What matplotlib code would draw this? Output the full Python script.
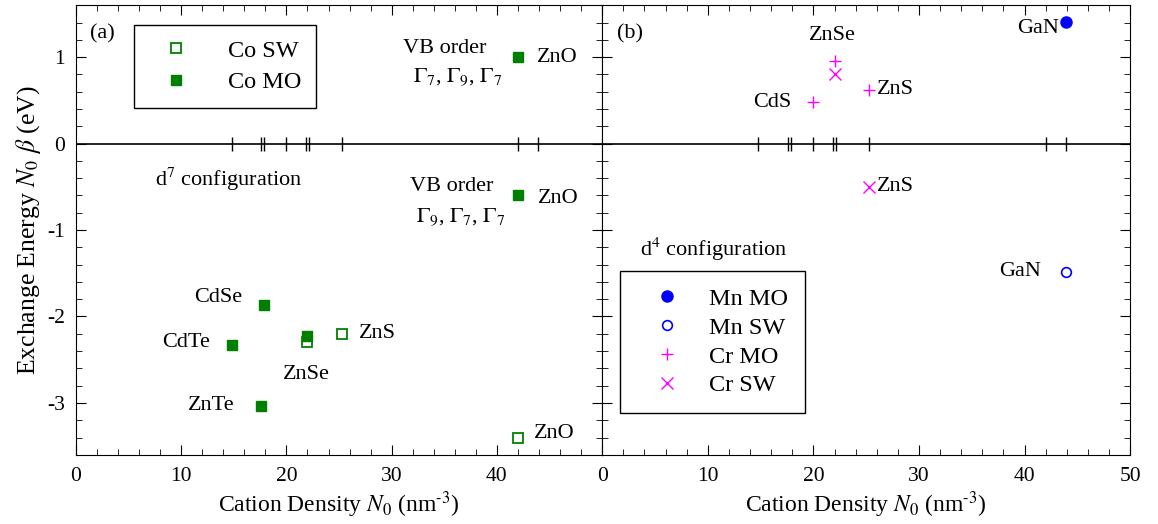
import numpy as np
import matplotlib
matplotlib.use('Agg')
import matplotlib.pyplot as plt
from matplotlib.ticker import MultipleLocator

plt.rcParams['font.family'] = 'Liberation Serif'
plt.rcParams['mathtext.fontset'] = 'stix'
plt.rcParams['axes.unicode_minus'] = False
plt.rcParams['font.size'] = 15

# cation densities (nm^-3) marked on the zero line
dens_ticks = [14.8, 17.6, 17.9, 20.0, 21.9, 22.1, 25.3, 42.0, 43.9]

# panel (a): Co
co_mo_x = [42.0, 42.0, 17.9, 14.8, 22.0, 17.6]
co_mo_y = [1.0, -0.6, -1.87, -2.33, -2.22, -3.03]
co_sw_x = [22.0, 25.3, 42.0]
co_sw_y = [-2.3, -2.2, -3.4]

# panel (b): Mn and Cr
mn_mo_x = [43.9]
mn_mo_y = [1.41]
mn_sw_x = [43.9]
mn_sw_y = [-1.49]
cr_mo_x = [22.0, 20.0, 25.3]
cr_mo_y = [0.95, 0.48, 0.62]
cr_sw_x = [22.0, 25.3]
cr_sw_y = [0.8, -0.5]

fig = plt.figure(figsize=(11.58, 5.24), dpi=100)
axL = fig.add_axes([0.0656, 0.132, 0.4544, 0.858])
axR = fig.add_axes([0.5200, 0.132, 0.4560, 0.858], sharey=axL)

green = '#007f00'
for ax in (axL, axR):
    ax.set_xlim(0, 50)
    ax.set_ylim(-3.6, 1.6)
    ax.xaxis.set_major_locator(MultipleLocator(10))
    ax.xaxis.set_minor_locator(MultipleLocator(2))
    ax.yaxis.set_major_locator(MultipleLocator(1))
    ax.yaxis.set_minor_locator(MultipleLocator(0.2))
    ax.tick_params(which='both', direction='in', top=True, right=True)
    ax.tick_params(which='major', length=7, labelsize=15.5)
    ax.tick_params(which='minor', length=4)
    ax.tick_params(axis='x', which='major', pad=9)
    ax.tick_params(axis='y', which='major', pad=8)
    ax.axhline(0, color='black', lw=1.2, zorder=1)
    ax.plot(dens_ticks, np.zeros(len(dens_ticks)), '|', color='black',
            markersize=10, markeredgewidth=1.0, zorder=1)
    ax.set_xlabel(r'Cation Density $N_0$ (nm$^{\text{-3}}$)', fontsize=17,
                  labelpad=2)

axL.set_xticks([0, 10, 20, 30, 40])
axR.tick_params(labelleft=False)
axL.set_ylabel(r'Exchange Energy $N_0\ \beta$ (eV)', fontsize=18.5, labelpad=3)
axL.set_yticks([-3, -2, -1, 0, 1])

# panel (a)
axL.plot(co_sw_x, co_sw_y, 's', mfc='white', mec=green, mew=1.3, ms=7,
         ls='none', label='Co SW')
axL.plot(co_mo_x, co_mo_y, 's', color=green, ms=7.5, ls='none', label='Co MO')
axL.legend(loc='upper left', bbox_to_anchor=(0.11, 0.956), frameon=True,
           fancybox=False, edgecolor='black', framealpha=1, fontsize=17.5,
           borderaxespad=0, borderpad=0.6, handletextpad=0.96,
           handlelength=2.3, labelspacing=0.4)

txt = dict(fontsize=16, ha='left', va='center')
axL.text(1.3, 1.27, '(a)', **txt)
axL.text(31.1, 1.1, 'VB order', **txt)
axL.text(32.0, 0.76, r'$\Gamma_7$, $\Gamma_9$, $\Gamma_7$', **txt)
axL.text(43.8, 1.0, 'ZnO', **txt)
axL.text(7.5, -0.42, r'd$^7$ configuration', **txt)
axL.text(31.7, -0.5, 'VB order', **txt)
axL.text(32.3, -0.86, r'$\Gamma_9$, $\Gamma_7$, $\Gamma_7$', **txt)
axL.text(43.9, -0.63, 'ZnO', **txt)
axL.text(11.2, -1.78, 'CdSe', **txt)
axL.text(8.2, -2.3, 'CdTe', **txt)
axL.text(26.9, -2.2, 'ZnS', **txt)
axL.text(19.7, -2.67, 'ZnSe', **txt)
axL.text(10.6, -3.03, 'ZnTe', **txt)
axL.text(43.5, -3.35, 'ZnO', **txt)

# panel (b)
axR.plot(mn_mo_x, mn_mo_y, 'o', color='blue', ms=8, ls='none', label='Mn MO')
axR.plot(mn_sw_x, mn_sw_y, 'o', mfc='white', mec='blue', mew=1.2, ms=7,
         ls='none', label='Mn SW')
axR.plot(cr_mo_x, cr_mo_y, '+', color='magenta', ms=9, mew=1.0, ls='none',
         label='Cr MO')
axR.plot(cr_sw_x, cr_sw_y, 'x', color='magenta', ms=8, mew=1.0, ls='none',
         label='Cr SW')
axR.legend(loc='upper left', bbox_to_anchor=(0.034, 0.409), frameon=True,
           fancybox=False, edgecolor='black', framealpha=1, fontsize=17.5,
           borderaxespad=0, borderpad=0.7, handletextpad=0.5,
           handlelength=2.47, labelspacing=0.28)

axR.text(1.4, 1.27, '(b)', **txt)
axR.text(39.3, 1.33, 'GaN', **txt)
axR.text(19.6, 1.25, 'ZnSe', **txt)
axR.text(14.3, 0.47, 'CdS', **txt)
axR.text(26.0, 0.62, 'ZnS', **txt)
axR.text(26.0, -0.5, 'ZnS', **txt)
axR.text(3.6, -1.22, r'd$^4$ configuration', **txt)
axR.text(37.6, -1.48, 'GaN', **txt)

fig.savefig('out.png', dpi=100)
